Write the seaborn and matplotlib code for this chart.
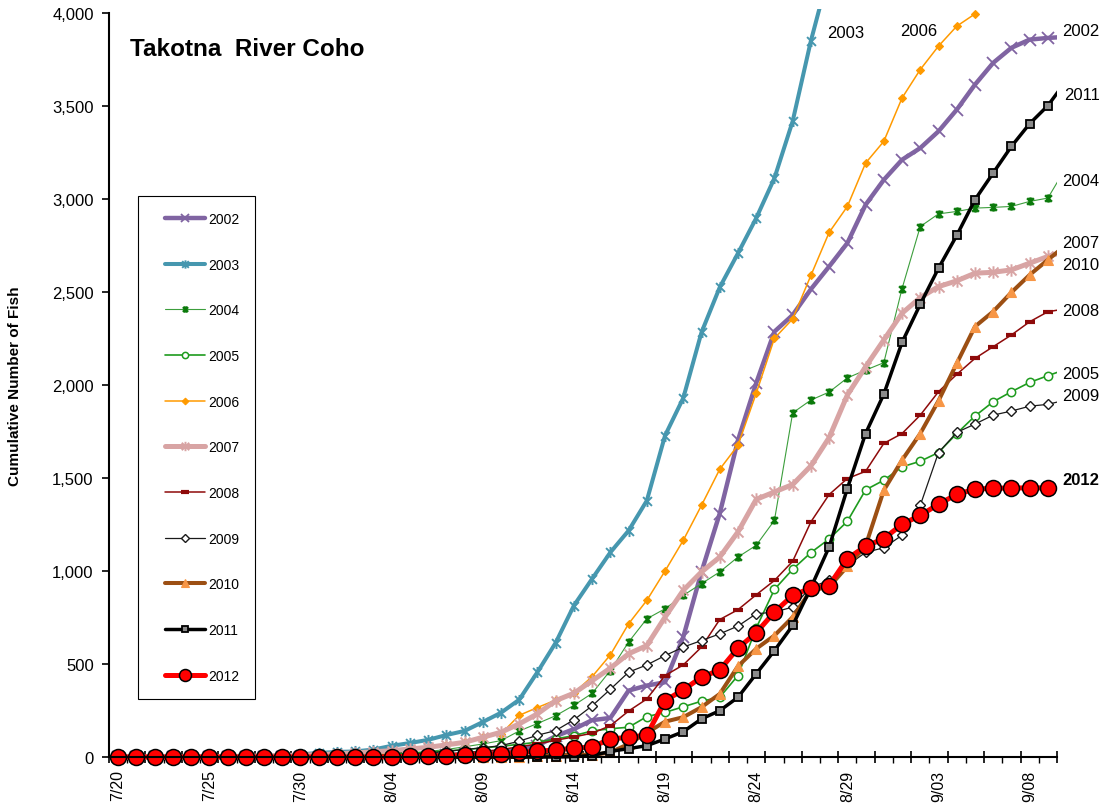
import numpy as np
import pandas as pd
import matplotlib
matplotlib.use("Agg")
import matplotlib.pyplot as plt
from matplotlib.path import Path
from matplotlib.patches import Rectangle
from matplotlib.ticker import FuncFormatter
from matplotlib.legend_handler import HandlerLine2D
import seaborn as sns

# Daily cumulative counts, one entry per day from 7/20 through 9/10
nan = np.nan
tick_labels = ["7/20", "7/25", "7/30", "8/04", "8/09", "8/14",
               "8/19", "8/24", "8/29", "9/03", "9/08"]
years = ["2002", "2003", "2004", "2005", "2006", "2007",
         "2008", "2009", "2010", "2011", "2012"]

y2002 = [0]*15 + [2, 4, 6, 10, 15, 20, 28, 40, 61, 112, 150, 198, 210, 357, 384, 402,
                  645, 995, 1309, 1703, 2010, 2287, 2376, 2515, 2637, 2763, 2969,
                  3103, 3211, 3274, 3364, 3480, 3615, 3732, 3813, 3857, 3866, 3872]
y2003 = [0]*9 + [5, 14, 22, 27, 30, 40, 60, 75, 92, 118, 140, 188, 238, 308, 456,
                 614, 814, 958, 1100, 1217, 1378, 1728, 1930, 2283, 2525, 2708,
                 2897, 3112, 3418, 3850, 4220] + [nan]*13
y2004 = [0]*12 + [3, 5, 10, 15, 22, 30, 40, 55, 70, 88, 140, 180, 222, 278, 342,
                  465, 618, 743, 797, 869, 932, 995, 1075, 1138, 1272, 1850, 1919,
                  1962, 2038, 2080, 2120, 2518, 2852, 2920, 2933, 2951, 2955, 2960,
                  2987, 3005, 3170]
y2005 = [0]*13 + [5, 10, 15, 20, 25, 32, 40, 48, 58, 68, 80, 97, 115, 140, 152,
                  160, 217, 240, 270, 300, 321, 438, 693, 901, 1009, 1099, 1172,
                  1267, 1436, 1488, 1560, 1590, 1637, 1739, 1833, 1910, 1964, 2014,
                  2050, 2085]
y2006 = [0]*10 + [3, 5, 8, 12, 18, 25, 35, 48, 62, 82, 106, 124, 224, 266, 306,
                  345, 432, 549, 716, 842, 1000, 1165, 1353, 1547, 1676, 1955, 2251,
                  2355, 2589, 2820, 2960, 3193, 3310, 3543, 3696, 3822, 3929,
                  3995] + [nan]*5
y2007 = [0]*6 + [2, 4, 6, 8, 10, 13, 17, 22, 28, 34, 43, 52, 65, 79, 106, 133,
                 178, 232, 303, 343, 410, 478, 555, 599, 752, 896, 995, 1075, 1210,
                 1385, 1425, 1465, 1565, 1717, 1946, 2098, 2242, 2386, 2470, 2529,
                 2560, 2601, 2606, 2619, 2655, 2691, 2720]
y2008 = [0]*15 + [3, 6, 10, 15, 22, 30, 40, 55, 70, 90, 108, 128, 168, 247, 312,
                  438, 495, 591, 739, 792, 872, 949, 1052, 1264, 1411, 1497, 1536,
                  1686, 1739, 1838, 1964, 2057, 2143, 2206, 2269, 2340, 2394, 2410]
y2009 = [0]*13 + [3, 6, 10, 15, 22, 30, 40, 50, 61, 85, 117, 142, 200, 275, 364,
                  456, 495, 545, 591, 626, 662, 704, 770, 779, 806, 913, 949, 1030,
                  1100, 1125, 1192, 1353, 1637, 1745, 1790, 1838, 1860, 1886, 1896,
                  1920]
y2010 = [0]*23 + [3, 8, 15, 10, 25, 70, 130, 190, 214, 268, 339, 488, 582, 653,
                  752, 896, 914, 1025, 1135, 1434, 1596, 1739, 1915, 2116, 2314,
                  2395, 2498, 2592, 2673, 2753]
y2011 = [0]*25 + [2, 8, 30, 45, 61, 97, 136, 205, 249, 321, 447, 572, 707, 910,
                  1129, 1443, 1739, 1951, 2229, 2434, 2628, 2804, 2996, 3140, 3283,
                  3405, 3502, 3635]
y2012 = [0]*15 + [2, 3, 5, 8, 11, 15, 18, 25, 31, 38, 47, 54, 97, 106, 118, 303,
                  361, 429, 468, 585, 668, 779, 869, 908, 922, 1066, 1133, 1174,
                  1251, 1299, 1359, 1412, 1440, 1445, 1446, 1447, 1447] + [nan]

series = [y2002, y2003, y2004, y2005, y2006, y2007,
          y2008, y2009, y2010, y2011, y2012]
day = np.arange(len(y2002))

# Excel-style "star" marker: an X crossed by a vertical bar
star = Path([(-1, -1), (1, 1), (-1, 1), (1, -1), (0, -1.25), (0, 1.25)],
            [Path.MOVETO, Path.LINETO] * 3)

styles = {
    "2002": dict(color="#8064A2", lw=3.2, marker="x", ms=8.5, mfc="#8064A2", mec="#8064A2", mew=1.3),
    "2003": dict(color="#4697AF", lw=2.9, marker=star, ms=8, mfc="#4697AF", mec="#4697AF", mew=1.4),
    "2004": dict(color="#3C9E3C", lw=0.8, marker=star, ms=6, mfc="#0B7A0B", mec="#0B7A0B", mew=1.8),
    "2005": dict(color="#1E9B1E", lw=1.2, marker="o", ms=6, mfc="white", mec="#1E9B1E", mew=1.1),
    "2006": dict(color="#FF9A00", lw=1.1, marker="D", ms=4.5, mfc="#FF9A00", mec="#FF9A00", mew=0.8),
    "2007": dict(color="#D8A4A4", lw=3.6, marker=star, ms=9, mfc="#D8A4A4", mec="#D8A4A4", mew=1.4),
    "2008": dict(color="#8E0A0A", lw=1.1, marker="_", ms=7, mfc="#8E0A0A", mec="#8E0A0A", mew=3.0),
    "2009": dict(color="#1A1A1A", lw=0.9, marker="D", ms=5, mfc="white", mec="#1A1A1A", mew=1.0),
    "2010": dict(color="#9C4F13", lw=2.9, marker="^", ms=7, mfc="#F79646", mec="#F79646", mew=0.8),
    "2011": dict(color="#000000", lw=2.5, marker="s", ms=6, mfc="#8A8A8A", mec="#000000", mew=1.3),
    "2012": dict(color="#FF0000", lw=3.6, marker="o", ms=11.5, mfc="#FF0000", mec="#000000", mew=1.1),
}

sns.set_theme(style="white")
plt.rcParams["font.family"] = ["Liberation Sans", "DejaVu Sans"]
plt.rcParams.update({"text.color": "black", "axes.labelcolor": "black",
                     "xtick.color": "black", "ytick.color": "black"})

fig = plt.figure(figsize=(11.12, 8.04), dpi=100)
ax = fig.add_axes([109 / 1112, 46 / 804, (1057 - 109) / 1112, (758 - 14) / 804])

clip_box = Rectangle((-0.03, -0.04), 1.03, 1.046, transform=ax.transAxes,
                     facecolor="none", edgecolor="none")

for yr, vals in zip(years, series):
    st = styles[yr]
    n_before = len(ax.lines)
    sns.lineplot(x=day, y=np.array(vals, dtype=float), ax=ax, estimator=None, sort=False,
                 color=st["color"], linewidth=st["lw"], marker=st["marker"],
                 markersize=st["ms"], markerfacecolor=st["mfc"],
                 markeredgecolor=st["mec"], markeredgewidth=st["mew"], label=yr)
    for ln in ax.lines[n_before:]:
        ln.set_clip_path(clip_box)

ax.set_xlim(-0.5, 51.5)
ax.set_ylim(0, 4000)
ax.set_xlabel("")
ax.set_ylabel("Cumulative Number of Fish", fontsize=11, fontweight="bold",
              labelpad=22, color="black")

ax.set_yticks(np.arange(0, 4001, 500))
ax.yaxis.set_major_formatter(FuncFormatter(lambda v, p: f"{v:,.0f}"))
ax.tick_params(axis="y", which="major", direction="out", length=5, width=1.2,
               labelsize=12, pad=6, left=True, color="black", labelcolor="black")

ax.set_xticks(np.arange(-0.5, 52, 2))
ax.set_xticks(np.arange(-0.5, 52, 1), minor=True)
ax.set_xticklabels([])
ax.tick_params(axis="x", which="major", direction="inout", length=9, width=1.2,
               bottom=True, color="black")
ax.tick_params(axis="x", which="minor", direction="out", length=4, width=1.0,
               bottom=True, color="black")

sec = ax.secondary_xaxis("bottom")
sec.set_xticks(np.arange(0, 51, 5), tick_labels)
sec.tick_params(length=0, pad=9, labelsize=11.5, labelrotation=90, labelcolor="black")
sec.spines["bottom"].set_visible(False)

for side in ["top", "right"]:
    ax.spines[side].set_visible(False)
for side in ["left", "bottom"]:
    ax.spines[side].set_color("black")
    ax.spines[side].set_linewidth(1.5)
ax.grid(False)

handles, labels = ax.get_legend_handles_labels()
leg = ax.legend(handles, labels, loc="upper left",
                bbox_to_anchor=(138 / 1112, 1 - 197 / 804), bbox_transform=fig.transFigure,
                frameon=True, fancybox=False, edgecolor="black", framealpha=1,
                fontsize=10, labelspacing=2.28, handlelength=3.67, handletextpad=0.22,
                borderpad=1.15, borderaxespad=0, numpoints=1, markerscale=0.75,
                handler_map={h: HandlerLine2D(xpad=0.79) for h in handles})
leg.get_frame().set_linewidth(0.8)
for t in leg.get_texts():
    t.set_color("black")

# Series names beside the curve ends
end_labels = [("2003", 38.9, 3893, "normal"), ("2006", 42.9, 3904, "normal"),
              ("2002", 51.8, 3904, "normal"), ("2011", 51.9, 3560, "normal"),
              ("2004", 51.8, 3102, "normal"), ("2007", 51.8, 2768, "normal"),
              ("2010", 51.8, 2649, "normal"), ("2008", 51.8, 2402, "normal"),
              ("2005", 51.8, 2062, "normal"), ("2009", 51.8, 1944, "normal"),
              ("2012", 51.8, 1492, "bold")]
for txt, xd, yv, wt in end_labels:
    ax.text(xd, yv, txt, fontsize=12, fontweight=wt, ha="left", va="center",
            clip_on=False, color="black")

fig.text(130 / 1112, 1 - 50 / 804, "Takotna  River Coho", fontsize=17.5,
         fontweight="bold", ha="left", va="center", color="black")

fig.savefig("out.png", dpi=100, facecolor="white")
